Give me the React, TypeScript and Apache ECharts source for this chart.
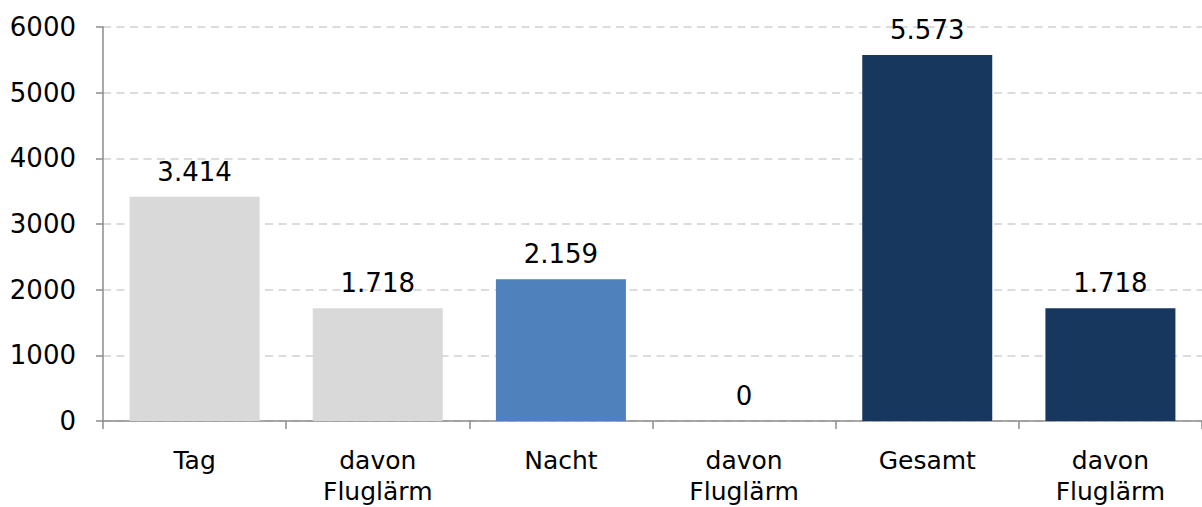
import React, { useEffect, useRef } from "react";
import * as echarts from "echarts";

const categories = ["Tag", "davon\nFluglärm", "Nacht", "davon\nFluglärm", "Gesamt", "davon\nFluglärm"];
const values = [3414, 1718, 2159, 0, 5573, 1718];
const barColors = ["#d9d9d9", "#d9d9d9", "#4f81bd", "#4f81bd", "#17375e", "#17375e"];
const labelTexts = ["3.414", "1.718", "2.159", "0", "5.573", "1.718"];
const yMin = 0;
const yMax = 6000;
const yStep = 1000;

export default function App() {
  const ref = useRef<HTMLDivElement>(null);
  useEffect(() => {
    if (!ref.current) return;
    const chart = echarts.init(ref.current, undefined, { renderer: "svg" });
    const font = "'DejaVu Sans', Verdana, sans-serif";
    chart.setOption({
      animation: false,
      backgroundColor: "#ffffff",
      grid: { left: 103, right: -4, top: 27, bottom: 79, containLabel: false },
      xAxis: {
        type: "category",
        data: categories,
        axisLine: { show: true, lineStyle: { color: "#8c8c8c", width: 1.5 } },
        axisTick: { show: true, length: 8, interval: 0, lineStyle: { color: "#8c8c8c", width: 1.5 } },
        axisLabel: {
          interval: 0,
          margin: 24,
          color: "#000",
          fontFamily: font,
          fontSize: 25,
          lineHeight: 31,
        },
      },
      yAxis: {
        type: "value",
        min: yMin,
        max: yMax,
        interval: yStep,
        axisLine: { show: true, lineStyle: { color: "#8c8c8c", width: 1.5 } },
        axisTick: { show: true, length: 7, lineStyle: { color: "#8c8c8c", width: 1.5 } },
        axisLabel: {
          margin: 27,
          color: "#000",
          fontFamily: font,
          fontSize: 26,
          formatter: (v: number) => String(v),
        },
        splitLine: {
          show: true,
          lineStyle: { color: "#dcdcdc", width: 2, type: [8, 5.5] },
        },
      },
      series: [
        {
          type: "bar",
          barWidth: 130,
          data: values.map((v, i) => ({
            value: v,
            itemStyle: { color: barColors[i] },
          })),
          label: {
            show: true,
            position: "top",
            distance: 12,
            color: "#000",
            fontFamily: font,
            fontSize: 26,
            formatter: (p: any) => labelTexts[p.dataIndex],
          },
        },
      ],
    });
    return () => chart.dispose();
  }, []);
  return (
    <div
      ref={ref}
      style={{ position: "fixed", left: 0, top: 0, width: 1202, height: 507, overflow: "hidden" }}
    />
  );
}
